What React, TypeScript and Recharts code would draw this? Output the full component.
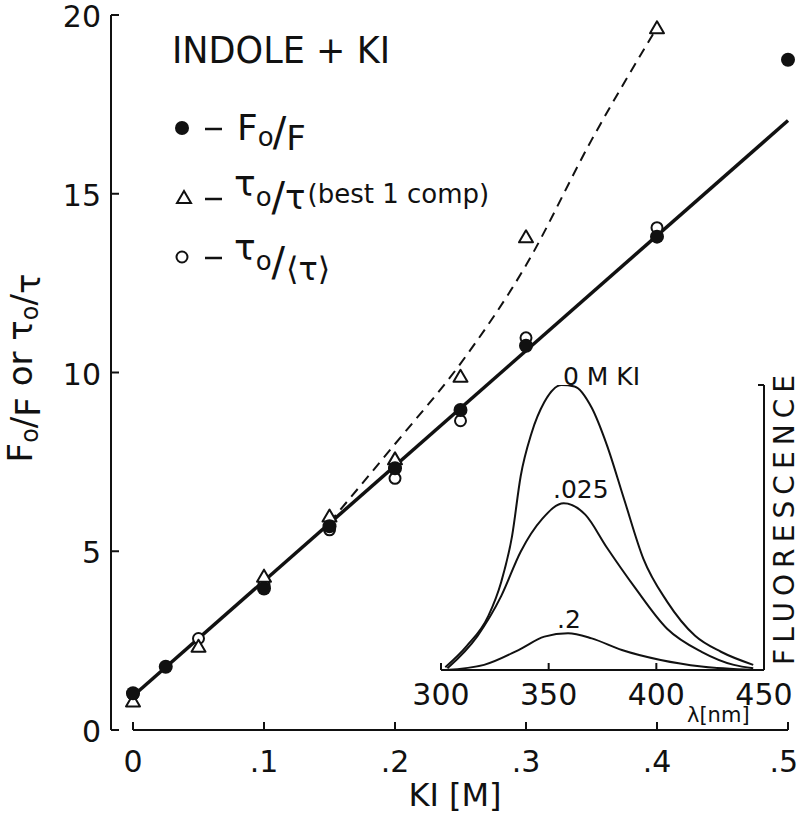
import {
  ComposedChart,
  LineChart,
  Line,
  Scatter,
  XAxis,
  YAxis,
  ReferenceLine,
  Customized,
} from 'recharts';

// main plot: KI concentration [M] vs F0/F or tau0/tau
const kiTicks = [0, 0.1, 0.2, 0.3, 0.4, 0.5];
const kiTickLabels = ['0', '.1', '.2', '.3', '.4', '.5'];
const ratioTicks = [0, 5, 10, 15, 20];

const fRatio = [
  { ki: 0, v: 1.03 },
  { ki: 0.025, v: 1.77 },
  { ki: 0.1, v: 3.96 },
  { ki: 0.15, v: 5.7 },
  { ki: 0.2, v: 7.32 },
  { ki: 0.25, v: 8.95 },
  { ki: 0.3, v: 10.75 },
  { ki: 0.4, v: 13.8 },
  { ki: 0.5, v: 18.75 },
];

const tauBest = [
  { ki: 0, v: 0.8 },
  { ki: 0.05, v: 2.33 },
  { ki: 0.1, v: 4.29 },
  { ki: 0.15, v: 5.97 },
  { ki: 0.2, v: 7.57 },
  { ki: 0.25, v: 9.88 },
  { ki: 0.3, v: 13.78 },
  { ki: 0.4, v: 19.63 },
];

const tauMean = [
  { ki: 0, v: 1.0 },
  { ki: 0.05, v: 2.56 },
  { ki: 0.1, v: 4.05 },
  { ki: 0.15, v: 5.6 },
  { ki: 0.2, v: 7.04 },
  { ki: 0.25, v: 8.65 },
  { ki: 0.3, v: 10.97 },
  { ki: 0.4, v: 14.05 },
];

const fitLine = [
  { ki: 0, v: 0.95 },
  { ki: 0.5, v: 17.05 },
];

const tauBestCurve = [
  { ki: 0.15, v: 5.8 },
  { ki: 0.2, v: 8.0 },
  { ki: 0.25, v: 10.25 },
  { ki: 0.3, v: 13.0 },
  { ki: 0.35, v: 16.5 },
  { ki: 0.4, v: 19.65 },
];

// inset: emission spectra, wavelength [nm] vs fluorescence
const nmTicks = [300, 350, 400, 450];

const spec0 = [
  { nm: 302, f: 0.01 },
  { nm: 312, f: 0.085 },
  { nm: 322, f: 0.19 },
  { nm: 328, f: 0.31 },
  { nm: 333, f: 0.47 },
  { nm: 337, f: 0.68 },
  { nm: 342, f: 0.83 },
  { nm: 348, f: 0.94 },
  { nm: 356, f: 1.0 },
  { nm: 362, f: 0.995 },
  { nm: 370, f: 0.92 },
  { nm: 377, f: 0.79 },
  { nm: 385, f: 0.6 },
  { nm: 394, f: 0.39 },
  { nm: 405, f: 0.24 },
  { nm: 418, f: 0.12 },
  { nm: 430, f: 0.064 },
  { nm: 445, f: 0.018 },
];

const spec025 = [
  { nm: 303, f: 0.006 },
  { nm: 317, f: 0.12 },
  { nm: 328, f: 0.26 },
  { nm: 337, f: 0.415 },
  { nm: 347, f: 0.53 },
  { nm: 357, f: 0.585 },
  { nm: 367, f: 0.545 },
  { nm: 377, f: 0.43 },
  { nm: 390, f: 0.29 },
  { nm: 405, f: 0.145 },
  { nm: 421, f: 0.064 },
  { nm: 436, f: 0.018 },
  { nm: 445, f: 0.006 },
];

const spec2 = [
  { nm: 302, f: 0.0 },
  { nm: 320, f: 0.018 },
  { nm: 336, f: 0.07 },
  { nm: 348, f: 0.117 },
  { nm: 359, f: 0.129 },
  { nm: 370, f: 0.111 },
  { nm: 384, f: 0.07 },
  { nm: 402, f: 0.035 },
  { nm: 421, f: 0.012 },
  { nm: 445, f: 0.0 },
];

const font = 'DejaVu Sans';
const ink = '#111';

const KiTick = (props: any) => {
  const { x, y, payload } = props;
  const i = kiTicks.indexOf(payload.value);
  const last = i === kiTicks.length - 1;
  return (
    <g>
      <line x1={x} y1={y} x2={x} y2={y - 8} stroke={ink} strokeWidth={2} />
      <text
        x={last ? x + 10 : x}
        y={y + 42}
        textAnchor={last ? 'end' : 'middle'}
        fontSize={30}
        fontFamily={font}
        fill={ink}
      >
        {kiTickLabels[i]}
      </text>
    </g>
  );
};

const RatioTick = (props: any) => {
  const { x, y, payload } = props;
  return (
    <g>
      <line x1={x} y1={y} x2={x + 8} y2={y} stroke={ink} strokeWidth={2} />
      <text x={x - 10} y={y + 12} textAnchor="end" fontSize={30} fontFamily={font} fill={ink}>
        {payload.value}
      </text>
    </g>
  );
};

const NmTick = (props: any) => {
  const { x, y, payload } = props;
  return (
    <g>
      <line x1={x} y1={y} x2={x} y2={y - 7} stroke={ink} strokeWidth={2} />
      <text x={x} y={y + 35} textAnchor="middle" fontSize={30} fontFamily={font} fill={ink}>
        {payload.value}
      </text>
    </g>
  );
};

const FluoTick = (props: any) => {
  const { x, y } = props;
  return <line x1={x} y1={y} x2={x - 6} y2={y} stroke={ink} strokeWidth={2} />;
};

const circleShape = (props: any) => (
  <circle cx={props.cx} cy={props.cy} r={7} fill={ink} />
);

const openCircleShape = (props: any) => (
  <circle cx={props.cx} cy={props.cy} r={5.5} fill="#fff" stroke={ink} strokeWidth={2} />
);

const triangleShape = (props: any) => {
  const { cx, cy } = props;
  return (
    <polygon
      points={`${cx},${cy - 7} ${cx - 7},${cy + 5} ${cx + 7},${cy + 5}`}
      fill="#fff"
      stroke={ink}
      strokeWidth={2}
      strokeLinejoin="round"
    />
  );
};

const MainText = () => (
  <g fontFamily={font} fill={ink}>
    {/* y axis title */}
    <g transform="translate(32, 368) rotate(-90)">
      <text x={0} y={0} fontSize={34} textAnchor="middle">
        F<tspan fontSize={24} dy={6}>o</tspan>
        <tspan dy={-3}>/</tspan>
        <tspan dy={5}>F</tspan>
        <tspan dy={-8}> or </tspan>τ<tspan fontSize={24} dy={6}>o</tspan>
        <tspan dy={-3}>/</tspan>
        <tspan dy={5}>τ</tspan>
      </text>
    </g>
    {/* x axis title */}
    <text x={455} y={806} textAnchor="middle" fontSize={32}>
      KI [M]
    </text>

    {/* legend */}
    <text x={172} y={63} fontSize={38} textLength={218} lengthAdjust="spacingAndGlyphs">
      INDOLE + KI
    </text>

    <circle cx={182} cy={128} r={7} fill={ink} />
    <line x1={205} y1={129} x2={222} y2={129} stroke={ink} strokeWidth={2.5} />
    <text x={237} y={140} fontSize={36}>
      F<tspan fontSize={26} dy={6}>o</tspan>
      <tspan fontSize={40} dx={-1}>/</tspan>
      <tspan fontSize={34} dy={4}>F</tspan>
    </text>

    <polygon points="184,191 177,203 191,203" fill="#fff" stroke={ink} strokeWidth={2} />
    <line x1={205} y1={199} x2={222} y2={199} stroke={ink} strokeWidth={2.5} />
    <text x={234} y={196} fontSize={36}>
      τ<tspan fontSize={26} dy={10}>o</tspan>
      <tspan fontSize={40} dy={5}>/</tspan>
      <tspan fontSize={34} dy={-2}>τ</tspan>
      <tspan fontSize={26} dy={-6} dx={2}>(best 1 comp)</tspan>
    </text>

    <circle cx={182} cy={257} r={5.5} fill="#fff" stroke={ink} strokeWidth={2} />
    <line x1={205} y1={258} x2={222} y2={258} stroke={ink} strokeWidth={2.5} />
    <text x={234} y={260} fontSize={36}>
      τ<tspan fontSize={26} dy={10}>o</tspan>
      <tspan fontSize={40} dy={6}>/</tspan>
      <tspan fontSize={32} dy={4} dx={1}>⟨τ⟩</tspan>
    </text>
  </g>
);

const InsetText = () => (
  <g fontFamily={font} fill={ink}>
    <text x={163} y={25} fontSize={25}>0 M KI</text>
    <text x={153} y={138} fontSize={25}>.025</text>
    <text x={157} y={268} fontSize={25}>.2</text>
    <text x={287} y={362} fontSize={21}>λ[nm]</text>
    <text
      x={0}
      y={0}
      fontSize={28}
      textAnchor="middle"
      textLength={290}
      lengthAdjust="spacing"
      transform="translate(394, 160) rotate(-90)"
    >
      FLUORESCENCE
    </text>
  </g>
);

const App = () => {
  return (
    <div
      style={{
        position: 'absolute',
        left: 0,
        top: 0,
        width: 800,
        height: 813,
        background: '#fff',
        fontFamily: font,
      }}
    >
      <ComposedChart
        width={800}
        height={813}
        margin={{ top: 15, right: 12, bottom: 23, left: 0 }}
      >
        <XAxis
          dataKey="ki"
          type="number"
          domain={[0, 0.5]}
          ticks={kiTicks}
          padding={{ left: 22, right: 0 }}
          height={60}
          axisLine={false}
          tickLine={false}
          tickSize={0}
          tickMargin={0}
          tick={KiTick}
        />
        <YAxis
          dataKey="v"
          type="number"
          domain={[0, 20]}
          ticks={ratioTicks}
          width={111}
          axisLine={{ stroke: ink, strokeWidth: 2 }}
          tickLine={false}
          tickSize={0}
          tickMargin={0}
          tick={RatioTick}
        />
        <ReferenceLine
          segment={[
            { x: 0, y: 0 },
            { x: 0.5, y: 0 },
          ]}
          stroke={ink}
          strokeWidth={2}
          ifOverflow="visible"
        />
        <Line
          data={fitLine}
          dataKey="v"
          type="linear"
          stroke={ink}
          strokeWidth={3.5}
          dot={false}
          isAnimationActive={false}
        />
        <Line
          data={tauBestCurve}
          dataKey="v"
          type="monotone"
          stroke={ink}
          strokeWidth={2}
          strokeDasharray="10 7"
          dot={false}
          isAnimationActive={false}
        />
        <Scatter data={tauMean} dataKey="v" shape={openCircleShape} isAnimationActive={false} />
        <Scatter data={tauBest} dataKey="v" shape={triangleShape} isAnimationActive={false} />
        <Scatter data={fRatio} dataKey="v" shape={circleShape} isAnimationActive={false} />
        <Customized component={<MainText />} />
      </ComposedChart>

      <div style={{ position: 'absolute', left: 400, top: 360 }}>
        <LineChart
          width={400}
          height={380}
          margin={{ top: 25, right: 0, bottom: 30, left: 41 }}
        >
          <XAxis
            dataKey="nm"
            type="number"
            domain={[300, 450]}
            ticks={nmTicks}
            allowDataOverflow
            height={40}
            axisLine={{ stroke: ink, strokeWidth: 2 }}
            tickLine={false}
            tickSize={0}
            tickMargin={0}
            tick={NmTick}
          />
          <YAxis
            dataKey="f"
            type="number"
            orientation="right"
            domain={[0, 1]}
            ticks={[1]}
            allowDataOverflow
            width={36}
            axisLine={{ stroke: ink, strokeWidth: 2 }}
            tickLine={false}
            tickSize={0}
            tickMargin={0}
            tick={FluoTick}
          />
          <Line data={spec0} dataKey="f" type="monotone" stroke={ink} strokeWidth={2} dot={false} isAnimationActive={false} />
          <Line data={spec025} dataKey="f" type="monotone" stroke={ink} strokeWidth={2} dot={false} isAnimationActive={false} />
          <Line data={spec2} dataKey="f" type="monotone" stroke={ink} strokeWidth={2} dot={false} isAnimationActive={false} />
          <Customized component={<InsetText />} />
        </LineChart>
      </div>
    </div>
  );
};

export default App;
